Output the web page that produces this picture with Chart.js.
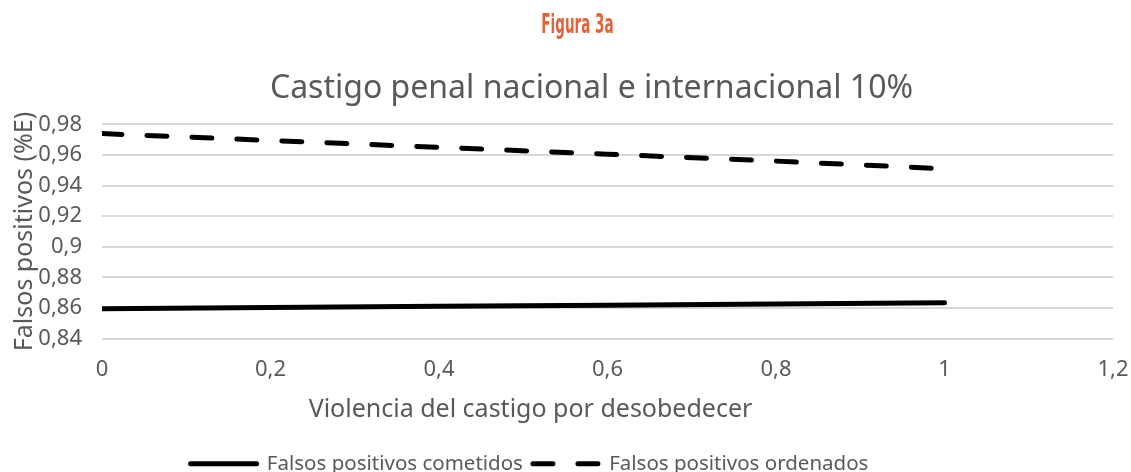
<!DOCTYPE html>
<html>
<head>
<meta charset="utf-8">
<script src="https://cdn.jsdelivr.net/npm/chart.js@4"></script>
<style>
  html, body { margin: 0; padding: 0; background: #fff; overflow: hidden; }
  #wrap { position: relative; width: 1131px; height: 472px; }
  #fig {
    position: absolute; left: 0; top: 9px; width: 1154px; text-align: center;
    font-family: "DejaVu Sans", sans-serif; font-weight: bold;
    font-size: 26px; line-height: 30px; color: #e2623a;
    transform: scaleX(0.52); transform-origin: 578px 0;
  }
</style>
</head>
<body>
<div id="wrap">
  <canvas id="chart" width="1131" height="472"></canvas>
  <div id="fig"></div>
</div>
<script>
  // ---------- data ----------
  const xValues = [0, 0.2, 0.4, 0.6, 0.8, 1];
  const cometidos = [0.8595, 0.8603, 0.8611, 0.8618, 0.8626, 0.8633];
  const ordenados = [0.974, 0.9695, 0.965, 0.9605, 0.956, 0.951];
  const seriesNames = ["Falsos positivos cometidos", "Falsos positivos ordenados"];
  const figureLabel = "Figura 3a";
  const chartTitle = "Castigo penal nacional e internacional 10%";
  const xTitle = "Violencia del castigo por desobedecer";
  const yTitle = "Falsos positivos (%E)";

  const GREY = "#595959";
  const FONT = "'Noto Sans', 'Open Sans', sans-serif";
  const comma = (v) => String(Math.round(v * 100) / 100).replace(".", ",");

  document.getElementById("fig").textContent = figureLabel;

  // the original centres title, x title and legend on its own chart area, not the canvas
  const shiftPlugin = {
    id: "shift",
    afterLayout(chart) {
      const lg = chart.legend;
      if (lg) { lg.left -= 36; lg.right -= 36; }
      const tb = chart.titleBlock;
      if (tb) { tb.left += 26; tb.right += 26; }
    },
    afterDraw(chart) {
      const c = chart.ctx;
      c.save();
      c.font = "25px " + FONT;
      c.fillStyle = GREY;
      c.textAlign = "center";
      c.textBaseline = "middle";
      c.fillText(xTitle, chart.width / 2 - 35, 410);
      c.restore();
    },
  };

  new Chart(document.getElementById("chart"), {
    type: "line",
    data: {
      datasets: [
        {
          label: seriesNames[0],
          data: xValues.map((x, i) => ({ x, y: cometidos[i] })),
          borderColor: "#000",
          backgroundColor: "#000",
          borderWidth: 5,
          borderCapStyle: "round",
          pointRadius: 0,
          tension: 0,
        },
        {
          label: seriesNames[1],
          data: xValues.map((x, i) => ({ x, y: ordenados[i] })),
          borderColor: "#000",
          backgroundColor: "#000",
          borderWidth: 5,
          borderDash: [20, 25],
          borderCapStyle: "round",
          pointRadius: 0,
          tension: 0,
        },
      ],
    },
    plugins: [shiftPlugin],
    options: {
      responsive: false,
      animation: false,
      layout: { padding: { left: 0, right: 0, top: 0, bottom: -12 } },
      scales: {
        x: {
          type: "linear",
          min: 0,
          max: 1.2,
          ticks: { stepSize: 0.2, color: GREY, font: { size: 22, family: FONT }, padding: 18, callback: comma },
          grid: { display: false, drawTicks: false },
          border: { display: false },
          title: { display: false },
          afterFit: (s) => { s.height = 105; s.paddingRight = 18; },
        },
        y: {
          min: 0.84,
          max: 0.98,
          ticks: { stepSize: 0.02, color: GREY, font: { size: 22, family: FONT }, padding: 20, callback: comma },
          grid: { color: "#d9d9d9", lineWidth: 2, drawTicks: false },
          border: { display: false },
          title: { display: true, text: yTitle, color: GREY, font: { size: 25, family: FONT }, padding: { top: 10, bottom: 0 } },
          afterFit: (s) => { s.width = 102; },
        },
      },
      plugins: {
        title: {
          display: true,
          text: chartTitle,
          color: GREY,
          font: { size: 32, weight: "normal", family: FONT },
          padding: { top: 70, bottom: 16 },
        },
        legend: {
          position: "bottom",
          labels: {
            color: GREY,
            font: { size: 20.5, family: FONT },
            usePointStyle: true,
            pointStyleWidth: 66,
            boxHeight: 10,
            padding: 10,
            generateLabels(chart) {
              return chart.data.datasets.map((ds, i) => ({
                text: ds.label,
                fillStyle: "#000",
                strokeStyle: "#000",
                lineWidth: 5,
                lineCap: "round",
                lineDash: ds.borderDash || [],
                pointStyle: "line",
                fontColor: GREY,
                datasetIndex: i,
              }));
            },
          },
        },
        tooltip: { enabled: false },
      },
    },
  });
</script>
</body>
</html>
